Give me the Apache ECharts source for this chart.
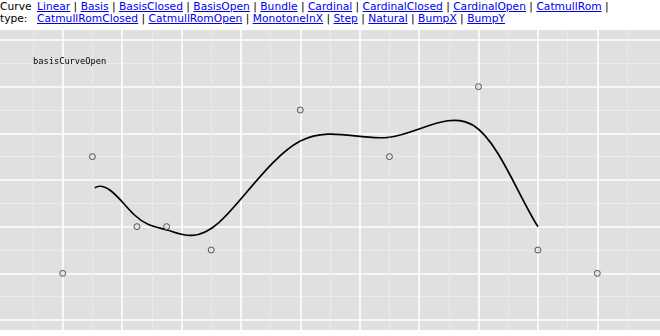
<!DOCTYPE html>
<html>
<head>
<meta charset="utf-8">
<script src="https://cdn.jsdelivr.net/npm/echarts@6/dist/echarts.min.js"></script>
<style>
  html, body { margin: 0; padding: 0; background: #fff; }
  #hdr { position: absolute; left: 0; top: 1px; width: 660px; display: flex; font: 10.7px "DejaVu Sans", sans-serif; line-height: 12.3px; color: #000; }
  #hdrLabel { width: 37px; flex: none; }
  #hdrLinks { white-space: nowrap; }
  #hdrLinks a { color: #0000ee; text-decoration: underline; }
  #chart { position: absolute; left: 0; top: 30px; width: 660px; height: 300px; background: #e0e0e0; }
</style>
</head>
<body>
<div id="hdr"><div id="hdrLabel">Curve type:</div><div id="hdrLinks"></div></div>
<div id="chart"></div>
<script>
// ---- data ----
const curveTypes = ["Linear", "Basis", "BasisClosed", "BasisOpen", "Bundle", "Cardinal", "CardinalClosed", "CardinalOpen", "CatmullRom",
                    "CatmullRomClosed", "CatmullRomOpen", "MonotoneInX", "Step", "Natural", "BumpX", "BumpY"];
const firstLineCount = 9;
const xValues = [2, 3, 4.5, 5.5, 7, 10, 13, 16, 18, 20];
const yValues = [2, 7, 4, 4, 3, 9, 7, 10, 3, 2];
const curveLabel = "basisCurveOpen";

// ---- header links ----
const linksEl = document.getElementById('hdrLinks');
let html = '';
curveTypes.forEach((name, i) => {
  html += '<a href="#">' + name + '</a>';
  if (i < curveTypes.length - 1) html += ' | ';
  if (i === firstLineCount - 1) html += '<br>';
});
linksEl.innerHTML = html;

// ---- chart ----
const chart = echarts.init(document.getElementById('chart'), null, { renderer: 'canvas' });
const pts = xValues.map((x, i) => [x, yValues[i]]);

function basisOpenRender(params, api) {
  const p = pts.map(d => api.coord(d));
  const children = [];
  for (let i = 3; i < p.length; i++) {
    const a = p[i - 3], b = p[i - 2], c = p[i - 1], d = p[i];
    children.push({
      type: 'bezierCurve',
      shape: {
        x1: (a[0] + 4 * b[0] + c[0]) / 6, y1: (a[1] + 4 * b[1] + c[1]) / 6,
        cpx1: (2 * b[0] + c[0]) / 3, cpy1: (2 * b[1] + c[1]) / 3,
        cpx2: (b[0] + 2 * c[0]) / 3, cpy2: (b[1] + 2 * c[1]) / 3,
        x2: (b[0] + 4 * c[0] + d[0]) / 6, y2: (b[1] + 4 * c[1] + d[1]) / 6
      },
      style: { fill: null, stroke: '#000', lineWidth: 1.7 }
    });
  }
  return { type: 'group', children };
}

const hidden = { axisLine: { show: false }, axisTick: { show: false }, axisLabel: { show: false }, splitLine: { show: false } };
const minorColor = '#ebebeb';
const majorColor = '#ffffff';

chart.setOption({
  animation: false,
  backgroundColor: '#e0e0e0',
  grid: [
    { left: 33, right: 33, top: 10, bottom: 10 },   // data
    { left: 0, right: 0, top: 10, bottom: 10 },     // horizontal grid lines, full width
    { left: 33, right: 33, top: 0, bottom: 0 }      // vertical grid lines, full height
  ],
  xAxis: [
    Object.assign({ type: 'value', gridIndex: 0, min: 1, max: 21 }, hidden),
    Object.assign({ type: 'value', gridIndex: 1, min: 0, max: 1 }, hidden),
    {
      type: 'value', gridIndex: 2, min: 1, max: 21, interval: 2,
      axisLine: { show: false }, axisTick: { show: false }, axisLabel: { show: false },
      splitLine: { show: true, lineStyle: { color: minorColor, width: 1 } },
      minorTick: { show: false, splitNumber: 2 },
      minorSplitLine: { show: true, lineStyle: { color: majorColor, width: 1.6 } }
    }
  ],
  yAxis: [
    Object.assign({ type: 'value', gridIndex: 0, min: 0, max: 12 }, hidden),
    {
      type: 'value', gridIndex: 1, min: 0, max: 12, interval: 2,
      axisLine: { show: false }, axisTick: { show: false }, axisLabel: { show: false },
      splitLine: { show: true, lineStyle: { color: majorColor, width: 1.6 } },
      minorTick: { show: false, splitNumber: 2 },
      minorSplitLine: { show: true, lineStyle: { color: minorColor, width: 1 } }
    },
    Object.assign({ type: 'value', gridIndex: 2, min: 0, max: 1 }, hidden)
  ],
  graphic: [{
    type: 'text', left: 33, top: 27, z: 100, zlevel: 1,
    style: { text: curveLabel, font: '8.7px "DejaVu Sans Mono", monospace', fill: '#000' }
  }],
  series: [
    {
      type: 'custom', coordinateSystem: 'cartesian2d', xAxisIndex: 0, yAxisIndex: 0,
      data: [pts[0]], renderItem: basisOpenRender, silent: true, z: 2
    },
    {
      type: 'scatter', xAxisIndex: 0, yAxisIndex: 0, data: pts, symbol: 'circle', symbolSize: 6,
      itemStyle: { color: '#e0e0e0', borderColor: '#333', borderWidth: 1 },
      z: 3, silent: true
    }
  ]
});
</script>
</body>
</html>
